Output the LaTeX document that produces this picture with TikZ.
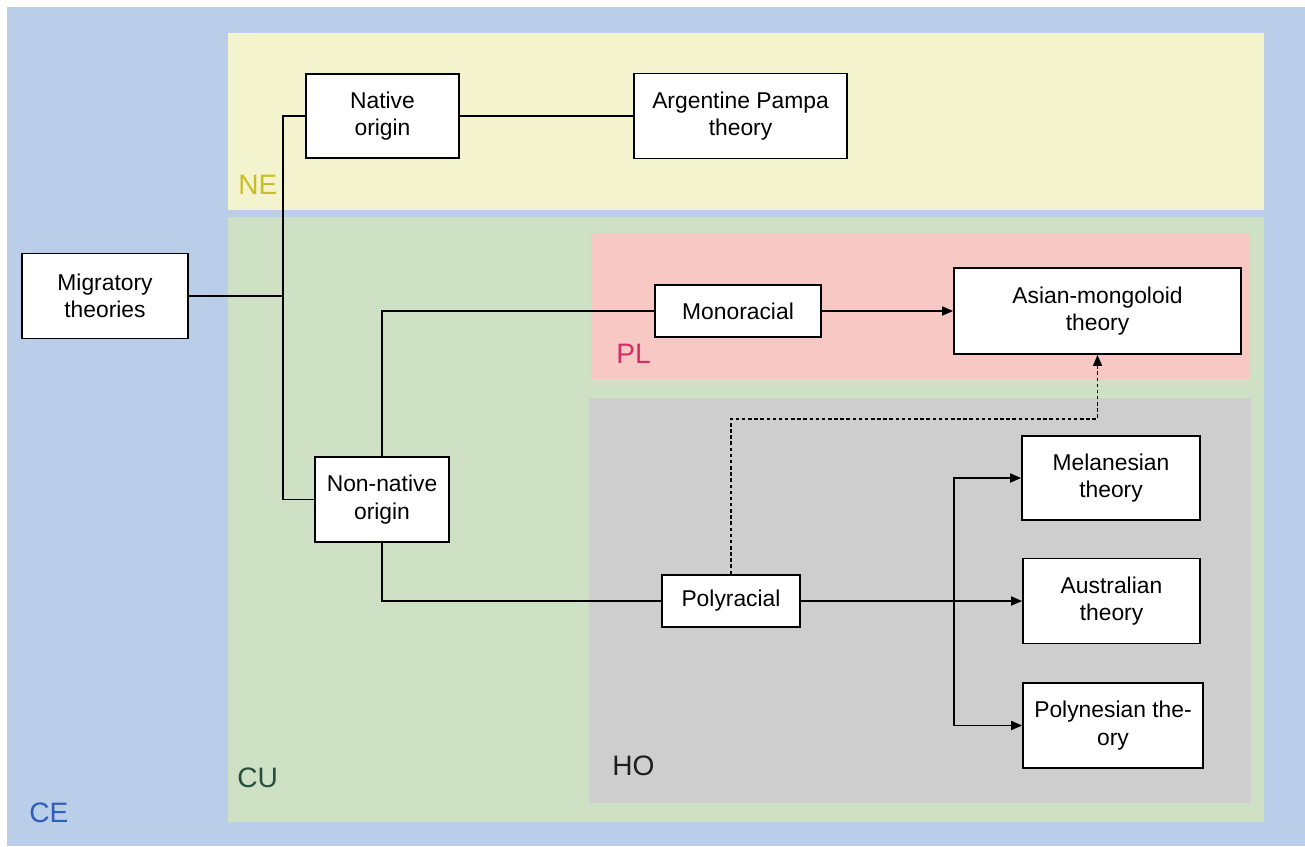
\documentclass[tikz,border=0pt]{standalone}
\usepackage{fontspec}
\setmainfont{Liberation Sans}
\usepackage{tikz}
\usetikzlibrary{positioning, arrows.meta}
\definecolor{ceblue}{RGB}{186,206,234}
\definecolor{neyellow}{RGB}{243,244,206}
\definecolor{cugreen}{RGB}{207,225,197}
\definecolor{plred}{RGB}{248,200,197}
\definecolor{hogrey}{RGB}{206,206,206}
\definecolor{cetext}{RGB}{45,95,185}
\definecolor{netext}{RGB}{200,190,42}
\definecolor{cutext}{RGB}{38,78,58}
\definecolor{pltext}{RGB}{215,45,100}
\definecolor{hotext}{RGB}{30,30,30}
\tikzset{
    theory box/.style = {draw, line width=1pt, fill=white, align=center, inner sep=2pt,
        font=\fontsize{13}{15.5}\selectfont},
}
\tikzset{
    link/.style = {draw, line width=1pt},
    arrow link/.style = {link, -{Triangle[length=2.2mm, width=1.8mm]}},
    hint link/.style = {draw, line width=0.8pt, dash pattern=on 2pt off 1.5pt,
        -{Triangle[length=2.2mm, width=1.8mm]}},
    region label/.style = {anchor=base west, inner sep=0pt, font=\fontsize{16}{18}\selectfont},
}

\begin{document}
\begin{tikzpicture}[x=0.02cm, y=-0.02cm]
            \useasboundingbox (0, 0) rectangle (1305, 846);

            \fill[ceblue] (7, 7) rectangle (1305, 846);
            \fill[neyellow] (228, 33) rectangle (1264, 210);
            \fill[cugreen] (228, 217) rectangle (1264, 822);
            \fill[plred] (591, 234) rectangle (1250, 379);
            \fill[hogrey] (589, 398) rectangle (1251, 803);

            \node[region label, text=cetext] (CE) at (29, 822) {CE};
            \node[region label, text=netext] (NE) at (238, 194) {NE};
            \node[region label, text=cutext] (CU) at (237, 787) {CU};
            \node[region label, text=pltext] (PL) at (616, 363) {PL};
            \node[region label, text=hotext] (HO) at (612, 775) {HO};

            \node[theory box, minimum width=3.32cm, minimum height=1.70cm] (mig) at (105, 296) {Migratory\\theories};
            \node[theory box, minimum width=3.06cm, minimum height=1.68cm] (native) at (382.5, 116) {Native\\origin};
            \node[theory box, minimum width=4.26cm, minimum height=1.70cm] (pampa) at (740.5, 116) {Argentine Pampa\\theory};
            \node[theory box, minimum width=2.68cm, minimum height=1.70cm] (nonnative) at (382, 499.5) {Non-native\\origin};
            \node[theory box, minimum width=3.32cm, minimum height=1.04cm] (mono) at (738, 311) {Monoracial};
            \node[theory box, minimum width=5.74cm, minimum height=1.72cm] (asian) at (1097.5, 311) {Asian-mongoloid\\theory};
            \node[theory box, minimum width=2.76cm, minimum height=1.04cm] (poly) at (731, 601) {Polyracial};
            \node[theory box, minimum width=3.56cm, minimum height=1.68cm] (melan) at (1111, 478) {Melanesian\\theory};
            \node[theory box, minimum width=3.54cm, minimum height=1.70cm] (austr) at (1111.5, 601) {Australian\\theory};
            \node[theory box, minimum width=3.60cm, minimum height=1.70cm] (polyn) at (1113, 725.5) {Polynesian the-\\ory};

            \coordinate (split) at (283, 296);
            \coordinate (fork) at (954, 601);
            \coordinate (hint) at (1097.5, 419);

            \draw[link] (mig.east) -- (split);
            \draw[link] (native.west) -| (split) |- (nonnative.west);
            \draw[link] (native.east) -- (pampa.west);
            \draw[link] (nonnative.north) |- (mono.west);
            \draw[link] (nonnative.south) |- (poly.west);
            \draw[arrow link] (mono.east) -- (asian.west);
            \draw[arrow link] (poly.east) -- (austr.west);
            \draw[arrow link] (fork) |- (melan.west);
            \draw[arrow link] (fork) |- (polyn.west);
            \draw[hint link] (poly.north) |- (hint) -- (asian.south);
        \end{tikzpicture}
\end{document}
